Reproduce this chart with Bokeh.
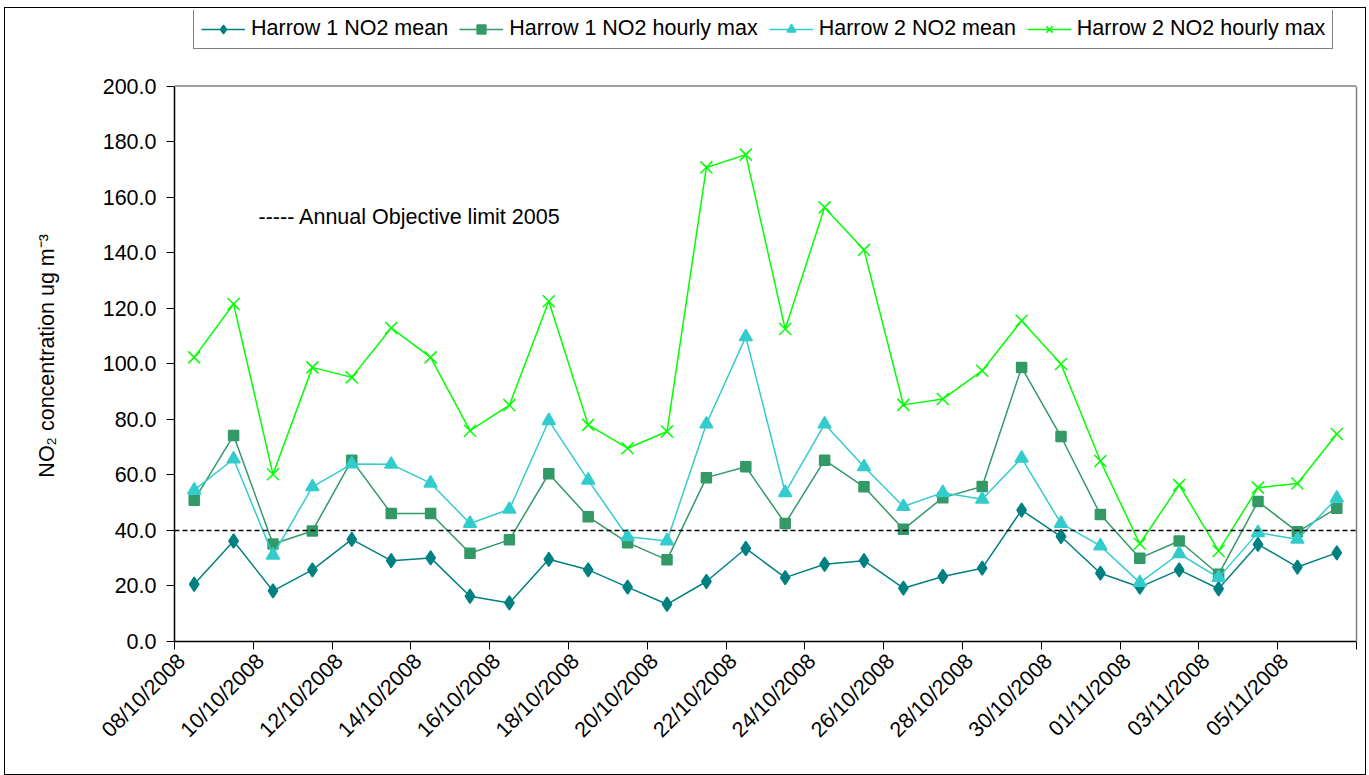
import math
from datetime import datetime, timedelta
from bokeh.plotting import figure
from bokeh.models import (Range1d, FixedTicker, DatetimeTickFormatter, NumeralTickFormatter,
                          Span, Label, Legend, LegendItem, ColumnDataSource, DatetimeAxis,
                          LinearAxis, CustomJSTickFormatter)
from bokeh.embed import file_html
from bokeh.resources import INLINE

# ---------------- data ----------------
start_date = "2008-10-08"
n_days = 30
dates = [datetime.strptime(start_date, "%Y-%m-%d") + timedelta(days=i, hours=12) for i in range(n_days)]

h1_mean = [20.6, 36.2, 18.2, 25.8, 36.8, 29.1, 30.1, 16.3, 13.9, 29.6,
           25.8, 19.6, 13.4, 21.6, 33.5, 23.0, 27.8, 29.1, 19.2, 23.4,
           26.4, 47.3, 37.8, 24.6, 19.6, 25.8, 19.0, 35.0, 26.8, 31.9]
h1_max = [50.9, 74.2, 35.1, 39.8, 65.3, 46.1, 46.1, 31.8, 36.6, 60.4,
          44.9, 35.6, 29.4, 59.0, 62.9, 42.5, 65.3, 55.7, 40.4, 51.8,
          55.8, 98.7, 73.8, 45.7, 30.0, 36.2, 24.2, 50.4, 39.5, 48.0]
h2_mean = [54.5, 65.7, 31.1, 55.7, 63.9, 63.8, 57.0, 42.5, 47.6, 79.5,
           58.1, 37.7, 36.2, 78.3, 109.7, 53.6, 78.3, 62.9, 48.6, 53.6,
           51.2, 66.0, 42.5, 34.4, 21.2, 31.6, 23.0, 39.2, 36.8, 51.6]
h2_max = [102.3, 121.5, 60.2, 98.7, 95.1, 112.9, 102.3, 75.9, 85.1, 122.5,
          78.0, 69.6, 75.6, 170.7, 175.3, 112.5, 156.3, 141.0, 85.2, 87.3,
          97.5, 115.5, 99.9, 65.0, 35.2, 56.3, 32.6, 55.4, 56.9, 74.7]

series_names = ["Harrow 1 NO2 mean", "Harrow 1 NO2 hourly max",
                "Harrow 2 NO2 mean", "Harrow 2 NO2 hourly max"]

tick_dates = ["2008-10-08", "2008-10-10", "2008-10-12", "2008-10-14", "2008-10-16",
              "2008-10-18", "2008-10-20", "2008-10-22", "2008-10-24", "2008-10-26",
              "2008-10-28", "2008-10-30", "2008-11-01", "2008-11-03", "2008-11-05"]
end_date = "2008-11-07"

objective_limit = 40.0
objective_text = "----- Annual Objective limit 2005"
y_title = "NO\u2082 concentration ug m\u207b\u00b3"
y_ticks = [0, 20, 40, 60, 80, 100, 120, 140, 160, 180, 200]
y_min, y_max = 0, 200

# ---------------- layout (pixels) ----------------
FONT = "Liberation Sans"
FS = "21.5px"
W, H = 1362, 768
B_LEFT, B_RIGHT, B_TOP, B_BOTTOM = 169, 11, 2, 135
frame_h = (H - 2) - B_TOP - B_BOTTOM
plot_area_top_px = 75.3          # distance of the value-axis top below the frame top
y_end = y_max * frame_h / (frame_h - plot_area_top_px)

def ms(d):
    return (datetime.strptime(d, "%Y-%m-%d") - datetime(1970, 1, 1)).total_seconds() * 1000.0

x0 = datetime.strptime(start_date, "%Y-%m-%d")
x1 = datetime.strptime(end_date, "%Y-%m-%d")

p = figure(width=W, height=H, output_backend="svg", toolbar_location=None,
           x_axis_type="datetime",
           x_range=Range1d(x0, x1),
           y_range=Range1d(y_min, y_end),
           min_border_left=B_LEFT, min_border_right=B_RIGHT,
           min_border_top=B_TOP, min_border_bottom=B_BOTTOM)
p.styles = {"border": "1px solid black", "margin-left": "4px", "margin-top": "7px"}
p.background_fill_color = "white"
p.border_fill_color = "white"
p.outline_line_color = None
p.xgrid.visible = False
p.ygrid.visible = False

# label-only shifted axis (labels sit slightly right of their ticks, as in the original)
shift_ms = 0.18 * 86400000
p.extra_x_ranges = {"lab": Range1d(ms(start_date) - shift_ms, ms(end_date) - shift_ms)}
lab_axis = DatetimeAxis(x_range_name="lab")
p.add_layout(lab_axis, "below")

p.xaxis.ticker = FixedTicker(ticks=[ms(d) for d in tick_dates], minor_ticks=[ms(end_date)])
main_x = p.xaxis[0]
main_x.formatter = CustomJSTickFormatter(code="return ''")
main_x.major_label_text_font_size = "1px"
main_x.major_label_standoff = 0
lab_axis.formatter = DatetimeTickFormatter(days="%d/%m/%Y", months="%d/%m/%Y", years="%d/%m/%Y",
                                           hours="%d/%m/%Y", context=None)
lab_axis.axis_line_color = None
lab_axis.major_tick_line_color = None
lab_axis.minor_tick_line_color = None
lab_axis.major_tick_out = 0
lab_axis.major_tick_in = 0
lab_axis.major_label_orientation = math.pi / 4
lab_axis.major_label_standoff = 8

yax = p.yaxis[0]
yax.ticker = FixedTicker(ticks=y_ticks)
yax.formatter = NumeralTickFormatter(format="0.0")
yax.bounds = (y_min, y_max)
for ax in (main_x, yax):
    ax.axis_line_color = "black"
    ax.axis_line_width = 1.5
    ax.major_tick_line_color = "black"
    ax.major_tick_line_width = 1
    ax.major_tick_in = 0
    ax.major_tick_out = 8
for ax in (lab_axis, yax):
    ax.major_label_text_font = FONT
    ax.major_label_text_font_size = FS
    ax.major_label_text_color = "black"
yax.major_label_standoff = 10
yax.minor_tick_line_color = None
main_x.minor_tick_in = 0
main_x.minor_tick_out = 8
main_x.minor_tick_line_color = "black"

# axis title: trailing no-break spaces move the visible text down to sit where the original has it
yax.axis_label = y_title + "\u00a0" * 10
yax.axis_label_text_font = FONT
yax.axis_label_text_font_size = FS
yax.axis_label_text_font_style = "normal"
yax.axis_label_text_color = "black"
yax.axis_label_standoff = 41

# plot-area border (grey) on top and right
right_ax = LinearAxis(bounds=(y_min, y_max), axis_line_color="#808080", axis_line_width=1.5,
                      major_tick_line_color=None, minor_tick_line_color=None,
                      major_label_text_font_size="0px", ticker=FixedTicker(ticks=[]))
p.add_layout(right_ax, "right")
p.add_layout(Span(location=y_max, dimension="width", line_color="#808080", line_width=1.5))

# objective line
p.add_layout(Span(location=objective_limit, dimension="width", line_color="black",
                  line_width=1.5, line_dash="5 3"))

src = ColumnDataSource(dict(x=dates, h1_mean=h1_mean, h1_max=h1_max, h2_mean=h2_mean, h2_max=h2_max))

styles = [
    ("h1_mean", "#008080", "diamond", 14),
    ("h1_max", "#339966", "square", 10),
    ("h2_mean", "#33CCCC", "triangle", 13),
    ("h2_max", "#00FF00", "x", 17),
]
items = []
for (col, color, marker, size), name in zip(styles, series_names):
    ln = p.line("x", col, source=src, line_color=color, line_width=1.5)
    sc = p.scatter("x", col, source=src, marker=marker, size=size,
                   fill_color=color, line_color=color, line_width=1.5)
    items.append(LegendItem(label=name, renderers=[ln, sc]))

legend = Legend(items=items, orientation="horizontal", location=(19, 592),
                label_text_font=FONT, label_text_font_size=FS, label_text_color="black",
                glyph_width=44, glyph_height=22, label_standoff=6, spacing=11,
                padding=7, margin=0, border_line_color="black", border_line_width=1,
                background_fill_color="white", background_fill_alpha=1.0)
p.add_layout(legend, "center")

p.add_layout(Label(x=84, y=425, x_units="screen", y_units="screen", text=objective_text,
                   text_align="left", text_baseline="middle",
                   text_font=FONT, text_font_size=FS, text_color="black"))

open("out.html", "w").write(file_html(p, INLINE))
